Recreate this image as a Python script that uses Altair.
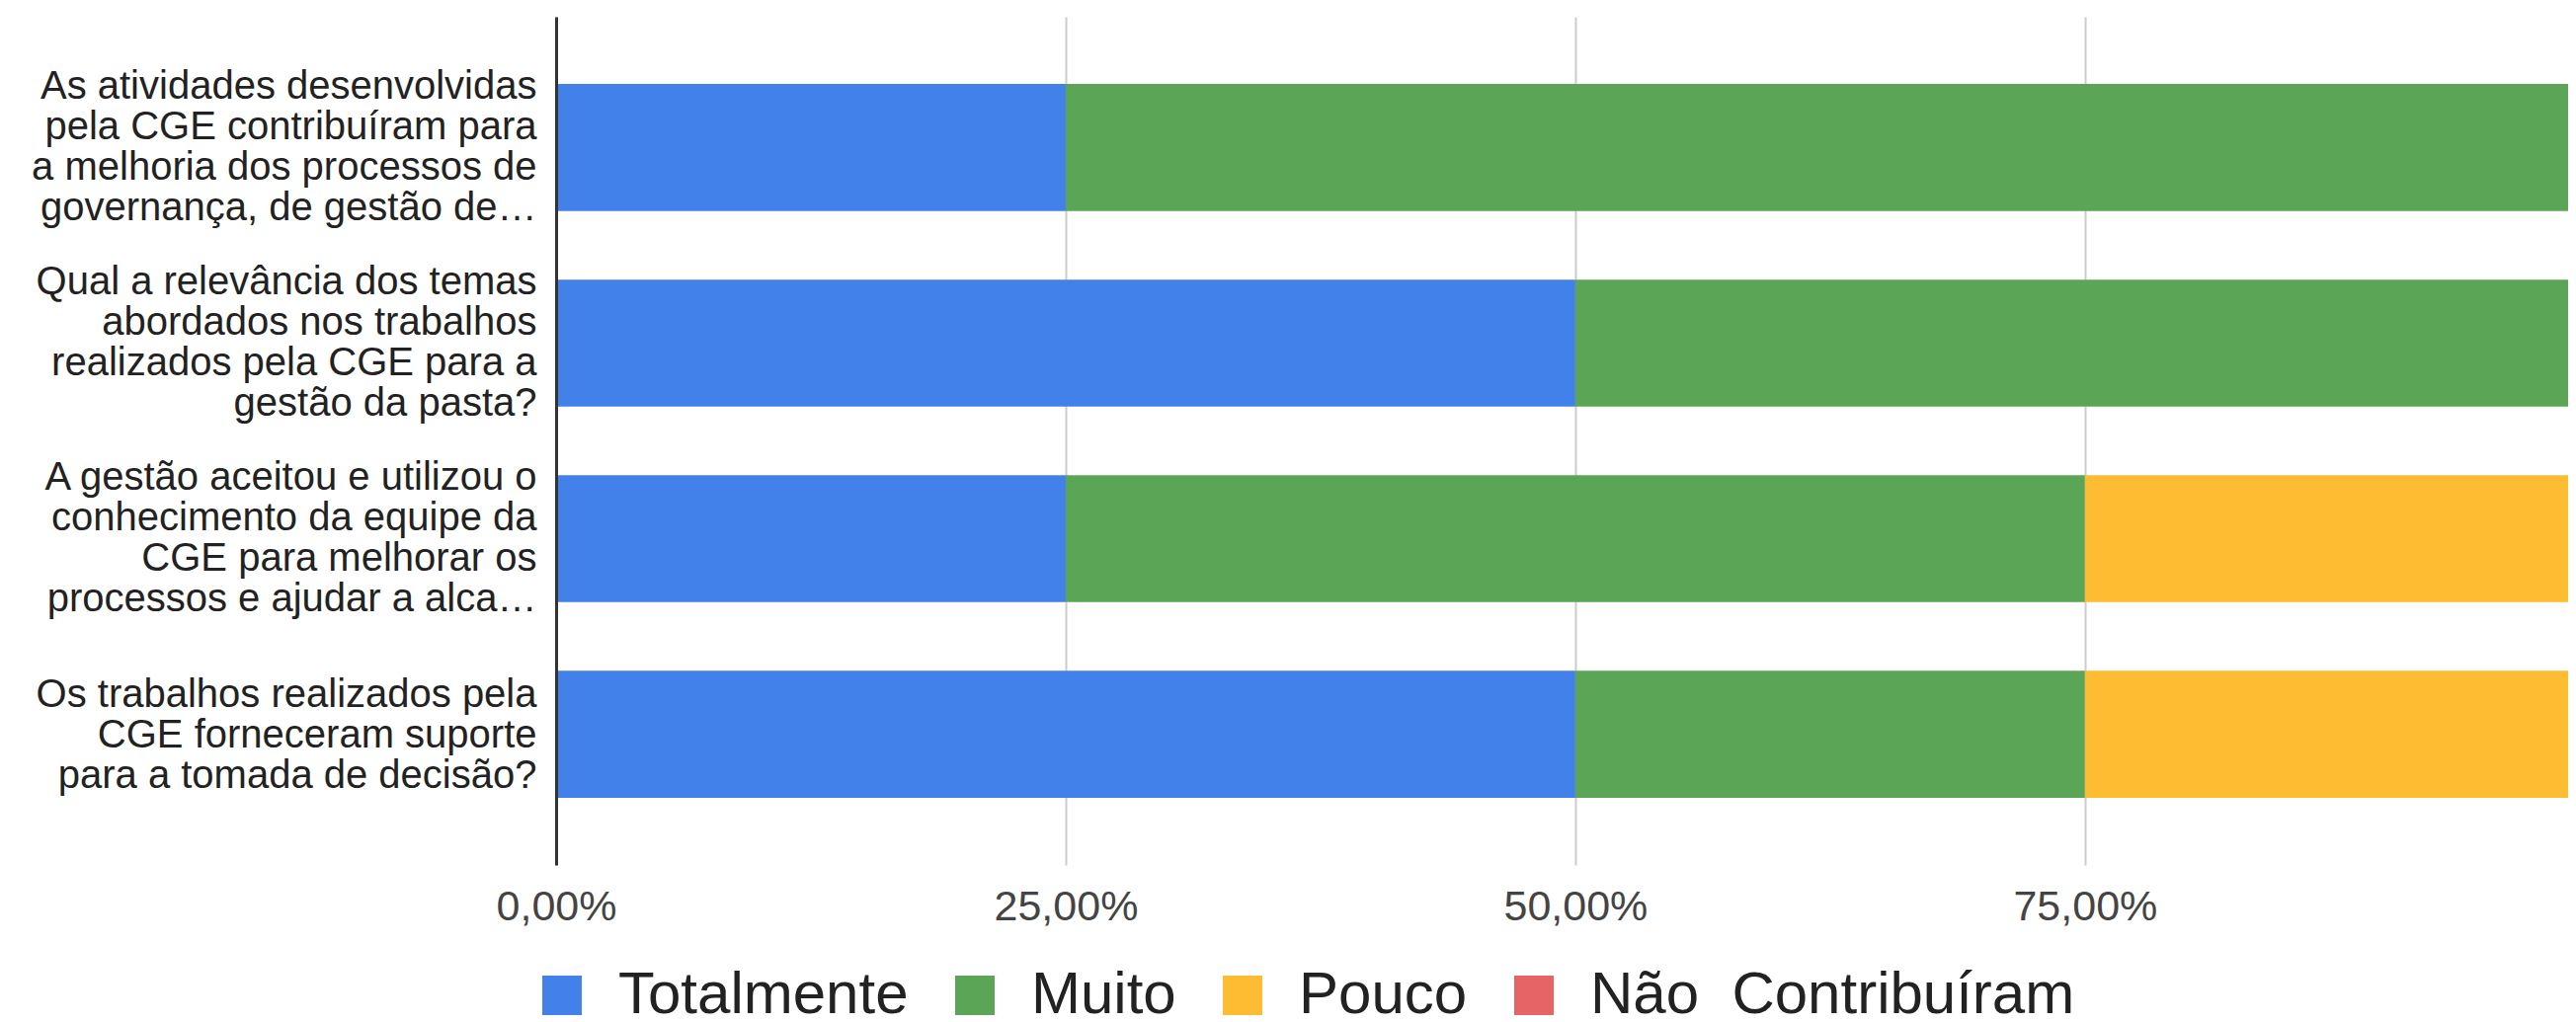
import altair as alt
import pandas as pd

questions = [
    "As atividades desenvolvidas|pela CGE contribuíram para|a melhoria dos processos de|governança, de gestão de…",
    "Qual a relevância dos temas|abordados nos trabalhos|realizados pela CGE para a|gestão da pasta?",
    "A gestão aceitou e utilizou o|conhecimento da equipe da|CGE para melhorar os|processos e ajudar a alca…",
    "Os trabalhos realizados pela|CGE forneceram suporte|para a tomada de decisão?",
]
categories = ["Totalmente", "Muito", "Pouco", "Não  Contribuíram"]
colors = ["#4281ea", "#5ba656", "#fdbc32", "#e66465"]

totalmente = [0.25, 0.50, 0.25, 0.50]
muito = [0.75, 0.50, 0.50, 0.25]
pouco = [0.00, 0.00, 0.25, 0.25]
nao_contribuiram = [0.00, 0.00, 0.00, 0.00]

x_ticks = [0, 0.25, 0.5, 0.75]

series = [totalmente, muito, pouco, nao_contribuiram]
rows = []
for ci, (cat, vals) in enumerate(zip(categories, series)):
    for q, v in zip(questions, vals):
        rows.append({"question": q, "category": cat, "value": v, "order": ci})
df = pd.DataFrame(rows)

FONT = "Liberation Sans"
LINE_H = 41

chart = alt.Chart(df).mark_bar(clip=True).encode(
    x=alt.X(
        "value:Q",
        stack="zero",
        scale=alt.Scale(domain=[0, 0.987], nice=False, zero=True),
        axis=alt.Axis(
            values=x_ticks,
            labelExpr="replace(format(datum.value, '.2%'), '.', ',')",
            title=None,
            domain=False,
            ticks=False,
            grid=True,
            gridColor="#cccccc",
            gridWidth=2,
            labelFontSize=43,
            labelColor="#444444",
            labelPadding=21,
            labelFont=FONT,
            labelAlign="center",
            labelFlush=False,
        ),
    ),
    y=alt.Y(
        "question:N",
        sort=questions,
        scale=alt.Scale(paddingInner=0.35, paddingOuter=0.344),
        axis=alt.Axis(
            title=None,
            labelExpr="split(datum.label, '|')",
            labelFontSize=40,
            labelLineHeight=LINE_H,
            labelLimit=0,
            labelPadding=20,
            labelOffset={
                "condition": {
                    "test": "length(split(datum.value, '|')) == 3",
                    "value": -LINE_H + 1,
                },
                "value": -1.5 * LINE_H,
            },
            ticks=False,
            grid=False,
            domainColor="#333333",
            domainWidth=3,
            labelColor="#222222",
            labelFont=FONT,
            zindex=1,
        ),
    ),
    color=alt.Color(
        "category:N",
        scale=alt.Scale(domain=categories, range=colors),
        legend=alt.Legend(
            title=None,
            orient="none",
            legendX=-24,
            legendY=961,
            direction="horizontal",
            symbolType="square",
            symbolSize=1600,
            symbolStrokeWidth=0,
            symbolOpacity=1,
            labelFontSize=60,
            labelFont=FONT,
            labelColor="#222222",
            labelOffset=27,
            columnPadding=37,
            labelLimit=0,
            padding=0,
            labelExpr="replace(datum.label, '  ', '\u00a0 ')",
        ),
    ),
    order=alt.Order("order:Q"),
).properties(
    width=2037,
    height=859,
    autosize=alt.AutoSizeParams(type="none"),
    padding={"left": 555, "top": 9, "right": 0, "bottom": 158},
).configure_view(strokeWidth=0)

chart.save("out.html", embed_options={"renderer": "svg", "actions": False})
